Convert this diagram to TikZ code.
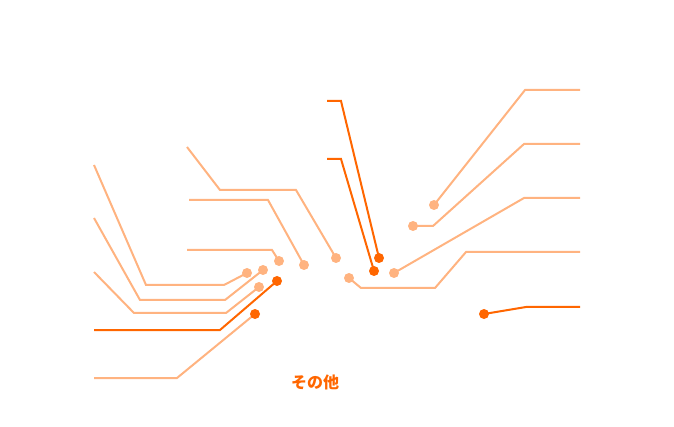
\documentclass[tikz,border=0pt]{standalone}
\usepackage{fontspec}
\newfontfamily\cjk{Noto Sans CJK JP}
\definecolor{darkorange}{RGB}{255,102,0}
\definecolor{lightorange}{RGB}{255,179,128}
\usetikzlibrary{positioning}
\usetikzlibrary{backgrounds}

\begin{document}
\begin{tikzpicture}[x=1pt,y=-1pt]
        \tikzset{every node/.style={circle, inner sep=0pt, minimum size=10pt},
                dotlight/.style={fill=lightorange},
                dotdark/.style={fill=darkorange},
                leadlight/.style={draw=lightorange, line width=2pt},
                leaddark/.style={draw=darkorange, line width=2pt}}
        \useasboundingbox (0,0) rectangle (674,427);

        % dots
        \node[dotlight] (1) at (247,273) {};
        \node[dotlight] (2) at (263,270) {};
        \node[dotlight] (3) at (259,287) {};
        \node[dotdark] (4) at (277,281) {};
        \node[dotdark] (5) at (255,314) {};
        \node[dotlight] (6) at (279,261) {};
        \node[dotlight] (7) at (304,265) {};
        \node[dotlight] (8) at (336,258) {};
        \node[dotdark] (9) at (379,258) {};
        \node[dotdark] (10) at (374,271) {};
        \node[dotlight] (11) at (434,205) {};
        \node[dotlight] (12) at (413,226) {};
        \node[dotlight] (13) at (394,273) {};
        \node[dotlight] (14) at (349,278) {};
        \node[dotdark] (15) at (484,314) {};

        % free ends
        \coordinate (e1) at (94,165);
        \coordinate (e2) at (94,218);
        \coordinate (e3) at (94,272);
        \coordinate (e4) at (94,330);
        \coordinate (e5) at (94,378);
        \coordinate (e6) at (187,250);
        \coordinate (e7) at (189,200);
        \coordinate (e8) at (187,147);
        \coordinate (e9) at (327,101);
        \coordinate (e10) at (327,159);
        \coordinate (e11) at (580,90);
        \coordinate (e12) at (580,144);
        \coordinate (e13) at (580,198);
        \coordinate (e14) at (580,252);
        \coordinate (e15) at (580,307);

        \begin{scope}[on background layer]
        \draw[leadlight] (e1) -- (146,285) -- (224,285) -- (1.center);
        \draw[leadlight] (e2) -- (140,300) -- (225,300) -- (2.center);
        \draw[leadlight] (e3) -- (134,313) -- (226,313) -- (3.center);
        \draw[leaddark] (e4) -- (220,330) -- (4.center);
        \draw[leadlight] (e5) -- (177,378) -- (5.center);
        \draw[leadlight] (e6) -- (272,250) -- (6.center);
        \draw[leadlight] (e7) -- (268,200) -- (7.center);
        \draw[leadlight] (e8) -- (220,190) -- (296,190) -- (8.center);
        \draw[leaddark] (e9) -- (341,101) -- (9.center);
        \draw[leaddark] (e10) -- (341,159) -- (10.center);
        \draw[leadlight] (e11) -- (525,90) -- (11.center);
        \draw[leadlight] (e12) -- (524,144) -- (433,226) -- (12.center);
        \draw[leadlight] (e13) -- (524,198) -- (13.center);
        \draw[leadlight] (e14) -- (466,252) -- (435,288) -- (361,288) -- (14.center);
        \draw[leaddark] (e15) -- (526,307) -- (15.center);
        \end{scope}

        \node[rectangle, minimum size=0pt, text=darkorange, font=\cjk\bfseries\fontsize{16}{19}\selectfont] (other) at (315,382) {その他};

    \end{tikzpicture}
\end{document}
